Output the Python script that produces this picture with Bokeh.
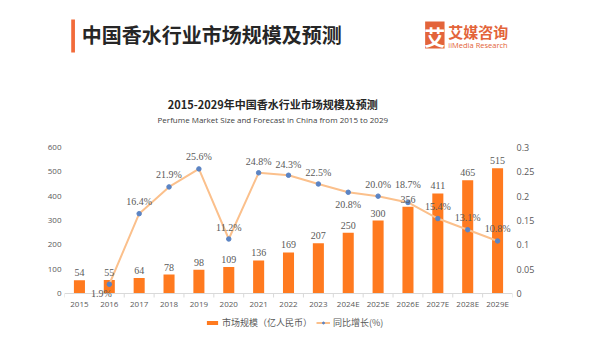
from bokeh.plotting import figure
from bokeh.models import (ColumnDataSource, Range1d, LinearAxis, FixedTicker, Span,
                          CustomJSTickFormatter, Legend, LegendItem, LabelSet)
from bokeh.layouts import column
from bokeh.core.properties import value
from bokeh.embed import file_html
from bokeh.resources import INLINE

# ---------------- data ----------------
years = ["2015", "2016", "2017", "2018", "2019", "2020", "2021", "2022", "2023",
         "2024E", "2025E", "2026E", "2027E", "2028E", "2029E"]
market_size = [54, 55, 64, 78, 98, 109, 136, 169, 207, 250, 300, 356, 411, 465, 515]
growth_years = years[1:]
growth_rate = [0.019, 0.164, 0.219, 0.256, 0.112, 0.248, 0.243, 0.225, 0.208,
               0.200, 0.187, 0.154, 0.131, 0.108]
left_ticks = [0, 100, 200, 300, 400, 500, 600]
right_ticks = [0, 0.05, 0.1, 0.15, 0.2, 0.25, 0.3]

page_title = "中国香水行业市场规模及预测"
chart_title = "2015-2029年中国香水行业市场规模及预测"
chart_subtitle = "Perfume Market Size and Forecast in China from 2015 to 2029"
bar_name = "市场规模（亿人民币）"
line_name = "同比增长(%)"

CJK = "Noto Sans CJK SC"
LAT = "Open Sans"
BAR_C = "#FF7A1F"
LINE_C = "#FBC08C"
DOT_C = "#5B84C4"
GRAY = "#595959"
AXIS_C = "#D9D9D9"

HEAD_H = 140
PLOT_PX = 146      # pixel height of the 0..max value span
PAD_PX = 7         # frame space below the zero line (room for low labels)
AX_PX = 16         # room for x tick labels
TICK_PX = 4        # category boundary tick length
MAIN_H = 7 + PLOT_PX + PAD_PX + AX_PX
LEG_H = 341 - HEAD_H - MAIN_H

LMAX = left_ticks[-1]
RMAX = right_ticks[-1]

# ---------------- header ----------------
head = figure(width=600, height=HEAD_H, x_range=Range1d(0, 600), y_range=Range1d(HEAD_H, 0),
              output_backend="svg", toolbar_location=None, min_border=0)
head.axis.visible = False
head.grid.visible = False
head.outline_line_color = None

head.quad(left=[9], right=[14], top=[19], bottom=[52], fill_color="#F26B3A", line_color=None)
head.text(x=[23], y=[34], text=[page_title], text_font=value(CJK), text_font_size="20px",
          text_font_style="bold", text_color="#262626", text_baseline="middle", text_align="left")

head.quad(left=[483], right=[509], top=[21], bottom=[48], fill_color="#E3643A", line_color=None)
head.text(x=[496], y=[35], text=["艾"], text_font=value(CJK), text_font_size="21px",
          text_font_style="bold", text_color="white", text_baseline="middle", text_align="center")
head.text(x=[514], y=[30.5], text=["艾媒咨询"], text_font=value(CJK), text_font_size="15px",
          text_font_style="bold", text_color="#E3643A", text_baseline="middle", text_align="left")
head.text(x=[514], y=[44], text=["iiMedia Research"], text_font=value(LAT), text_font_size="7.5px",
          text_color="#E3643A", text_baseline="middle", text_align="left")

head.text(x=[279], y=[103], text=[chart_title], text_font=value(CJK), text_font_size="11px",
          text_font_style="bold", text_color="#262626", text_baseline="middle", text_align="center")
head.text(x=[279], y=[119], text=[chart_subtitle], text_font=value(LAT), text_font_size="8px",
          text_color="#404040", text_baseline="middle", text_align="center")

# ---------------- main chart ----------------
p = figure(width=600, height=MAIN_H, x_range=years,
           y_range=Range1d(-LMAX * PAD_PX / PLOT_PX, LMAX),
           output_backend="svg", toolbar_location=None,
           min_border_left=64, min_border_right=88, min_border_top=7,
           min_border_bottom=AX_PX)
p.grid.visible = False
p.outline_line_color = None
p.extra_y_ranges = {"growth": Range1d(-RMAX * PAD_PX / PLOT_PX, RMAX)}

# category axis baseline at zero, with boundary ticks between categories
p.add_layout(Span(location=0, dimension="width", line_color=AXIS_C, line_width=1))
bounds = [[yr, -0.5] for yr in years] + [[years[-1], 0.5]]
p.segment(x0=bounds, x1=bounds, y0=[0] * len(bounds),
          y1=[-LMAX * TICK_PX / PLOT_PX] * len(bounds), line_color=AXIS_C, line_width=1)

bar_src = ColumnDataSource(dict(x=years, y=market_size, lab=[str(v) for v in market_size]))
bars = p.vbar(x="x", top="y", width=0.37, source=bar_src, fill_color=BAR_C, line_color=None)
p.add_layout(LabelSet(x="x", y="y", text="lab", source=bar_src, text_font=LAT,
                      text_font_size="10px", text_color=GRAY, text_align="center",
                      text_baseline="bottom", y_offset=4))

g_src = ColumnDataSource(dict(x=growth_years, y=growth_rate,
                              lab=[f"{g * 100:.1f}%" for g in growth_rate]))
line = p.line(x="x", y="y", source=g_src, y_range_name="growth", line_color=LINE_C, line_width=2)
dots = p.scatter(x="x", y="y", source=g_src, y_range_name="growth", size=4.5,
                 fill_color=DOT_C, line_color=DOT_C)

# label placement (styling only): pixel offsets per point (positive y = up)
x_off = [-8, 0, 0, 0, 0, 0, 0, 0, 0, 0, 0, 0, 0, 0]
y_off = [-9, 12, 12, 12, 11, 11, 11, 12, -12, 12, 18, 12, 12, 12]
lab_src = ColumnDataSource(dict(x=growth_years, y=growth_rate, lab=g_src.data["lab"],
                                xo=x_off, yo=y_off))
p.add_layout(LabelSet(x="x", y="y", text="lab", source=lab_src, y_range_name="growth",
                      x_offset="xo", y_offset="yo", text_font=LAT, text_font_size="10px",
                      text_color=GRAY, text_align="center", text_baseline="middle"))

xa = p.xaxis[0]
xa.axis_line_color = None
xa.major_tick_line_color = None
xa.major_tick_out = 0
xa.major_tick_in = 0
xa.minor_tick_line_color = None
xa.major_label_text_font = LAT
xa.major_label_text_font_size = "8px"
xa.major_label_text_color = GRAY
xa.major_label_standoff = -3

ya = p.yaxis[0]
ya.ticker = FixedTicker(ticks=left_ticks)
ya.axis_line_color = None
ya.major_tick_line_color = None
ya.major_tick_out = 0
ya.major_tick_in = 0
ya.minor_tick_line_color = None
ya.major_label_text_font = LAT
ya.major_label_text_font_size = "8px"
ya.major_label_text_color = GRAY
ya.major_label_standoff = 3

ra = LinearAxis(y_range_name="growth", ticker=FixedTicker(ticks=right_ticks),
                formatter=CustomJSTickFormatter(code="return String(parseFloat(tick.toFixed(2)));"))
ra.axis_line_color = None
ra.major_tick_line_color = None
ra.major_tick_out = 0
ra.major_tick_in = 0
ra.minor_tick_line_color = None
ra.major_label_text_font = LAT
ra.major_label_text_font_size = "9px"
ra.major_label_text_color = GRAY
ra.major_label_standoff = 4
p.add_layout(ra, "right")

# ---------------- legend row (same data, drawn off-view; only the legend shows) ----------------
lg = figure(width=600, height=LEG_H, x_range=years, y_range=Range1d(10000, 10001),
            output_backend="svg", toolbar_location=None, min_border=0)
lg.axis.visible = False
lg.grid.visible = False
lg.outline_line_color = None
lg.extra_y_ranges = {"growth": Range1d(10000, 10001)}
lb = lg.vbar(x="x", top="y", width=0.37, source=bar_src, fill_color=BAR_C, line_color=None)
ll = lg.line(x="x", y="y", source=g_src, y_range_name="growth", line_color=LINE_C, line_width=2)
ld = lg.scatter(x="x", y="y", source=g_src, y_range_name="growth", size=4.5,
                fill_color=DOT_C, line_color=DOT_C)
legend = Legend(items=[LegendItem(label=bar_name, renderers=[lb]),
                       LegendItem(label=line_name, renderers=[ll, ld])],
                orientation="horizontal", location=(141, 12),
                label_text_font=CJK, label_text_font_size="9px", label_text_color=GRAY,
                glyph_width=14, glyph_height=5, label_standoff=3, spacing=4,
                padding=2, margin=0, border_line_color=None, background_fill_alpha=0)
lg.add_layout(legend)

layout = column(head, p, lg, spacing=0)
open("out.html", "w").write(file_html(layout, INLINE))
